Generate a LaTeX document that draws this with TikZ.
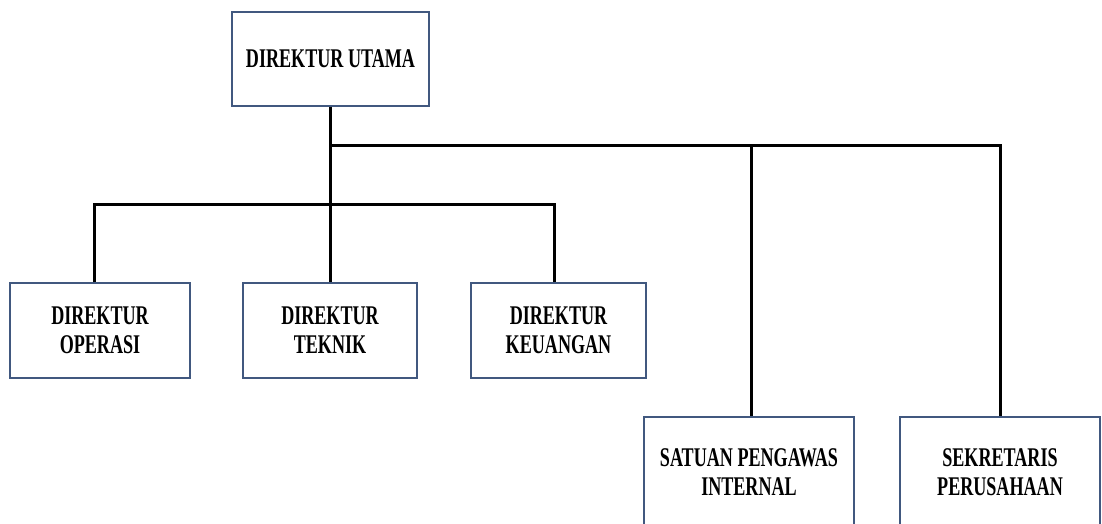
\documentclass[tikz,border=0pt]{standalone}
\usepackage{fontspec}
\setmainfont{Liberation Serif}[FakeStretch=0.67]
\definecolor{boxblue}{HTML}{41587F}
\tikzset{
  orgbox/.style={draw=boxblue, line width=1.5pt, fill=white, inner sep=0pt, align=center,
    font=\bfseries\fontsize{27}{29}\selectfont},
  conn/.style={draw=black, line width=3pt}
}
\begin{document}
\begin{tikzpicture}[x=1pt,y=-1pt]
\useasboundingbox (0,0) rectangle (1102,524);
\clip (0,0) rectangle (1102,524);
\node[orgbox, minimum width=197pt, minimum height=94pt] (utama) at (330.5,59) {DIREKTUR UTAMA};
\node[orgbox, minimum width=180pt, minimum height=95pt] (operasi) at (100,330.5) {DIREKTUR\\OPERASI};
\node[orgbox, minimum width=174pt, minimum height=95pt] (teknik) at (330,330.5) {DIREKTUR\\TEKNIK};
\node[orgbox, minimum width=175pt, minimum height=95pt] (keuangan) at (558.5,330.5) {DIREKTUR\\KEUANGAN};
\node[orgbox, minimum width=210pt, minimum height=110pt] (satuan) at (749,472) {SATUAN PENGAWAS\\INTERNAL};
\node[orgbox, minimum width=200pt, minimum height=110pt] (sekretaris) at (1000,472) {SEKRETARIS\\PERUSAHAAN};
\coordinate (j1) at (330,145);
\coordinate (j2) at (330,204);
\draw[conn] ([xshift=-0.5pt]utama.south) -- (teknik.north);
\draw[conn] (j1) -- ([xshift=2pt]satuan.north |- j1) -- ([xshift=2pt]satuan.north);
\draw[conn] ([xshift=2pt]satuan.north |- j1) -- (sekretaris.north |- j1) -- (sekretaris.north);
\draw[conn] ([xshift=-6pt]operasi.north) -- ([xshift=-6pt]operasi.north |- j2) -- ([xshift=-4.5pt]keuangan.north |- j2) -- ([xshift=-4.5pt]keuangan.north);
\end{tikzpicture}
\end{document}
